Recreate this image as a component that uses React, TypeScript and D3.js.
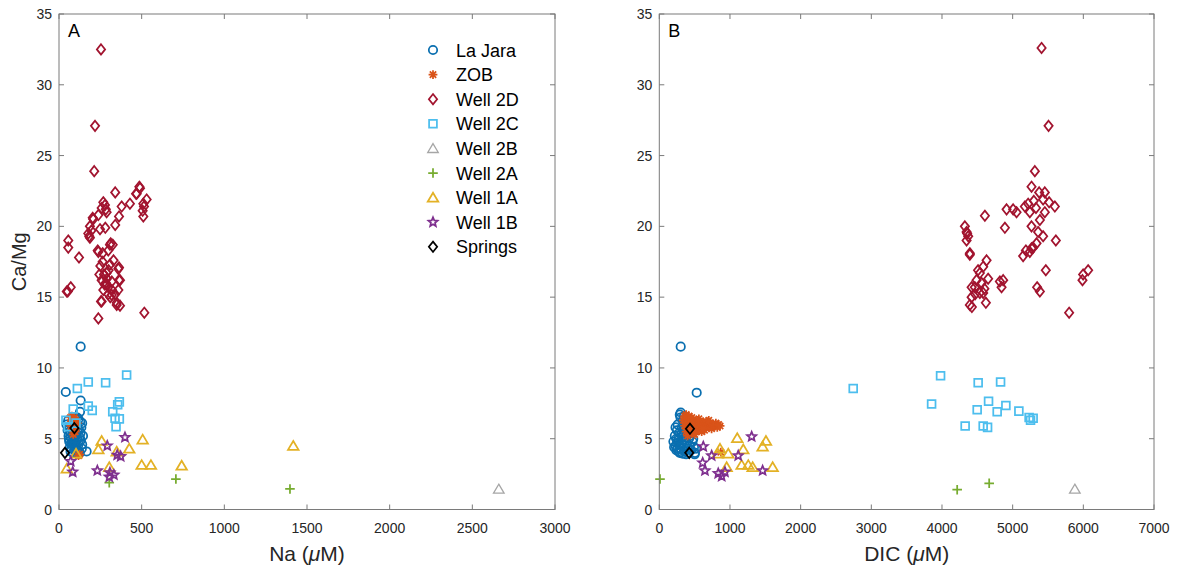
import React from "react";
import * as d3 from "d3";

type Pt = [number, number];

// ---------- tick values ----------
const ratioTicks = [0, 5, 10, 15, 20, 25, 30, 35];
const naTicks = [0, 500, 1000, 1500, 2000, 2500, 3000];
const dicTicks = [0, 1000, 2000, 3000, 4000, 5000, 6000, 7000];

// ---------- Panel A : Na (uM) vs Ca/Mg ----------
const laJaraNa: Pt[] = [
  [131, 11.5], [41, 8.3], [131, 7.7], [127, 6.9], [167, 4.1],
  [45, 6.0], [52, 5.6], [58, 5.2], [62, 4.8], [66, 4.4], [70, 4.1], [75, 4.3], [80, 4.6],
  [85, 4.9], [90, 5.3], [95, 5.0], [100, 4.7], [105, 4.4], [110, 4.2], [115, 4.5], [120, 4.8],
  [125, 5.1], [130, 5.4], [135, 5.8], [128, 6.2], [118, 6.4], [108, 6.0], [98, 5.7], [88, 6.1],
  [78, 5.9], [68, 5.5], [60, 5.0], [72, 5.1], [82, 5.3], [92, 4.5], [102, 5.2], [112, 5.5],
  [122, 5.6], [132, 4.9], [140, 4.6], [138, 4.3], [126, 4.0], [114, 3.95], [104, 4.1], [94, 4.2],
  [84, 4.0], [74, 4.7], [64, 5.8], [56, 6.3], [110, 6.5], [96, 6.4], [140, 6.1], [145, 5.2],
];
const zobNa: Pt[] = [
  [70, 6.5], [78, 6.6], [85, 6.4], [92, 6.5], [100, 6.3], [76, 6.2], [88, 6.1], [96, 6.0],
  [104, 5.8], [82, 5.7], [92, 5.6], [110, 6.1], [72, 5.9], [98, 5.5], [86, 5.3], [125, 3.9], [118, 3.8],
];
const well2DNa: Pt[] = [
  [254, 32.5], [218, 27.1], [213, 23.9], [56, 19.0], [56, 18.5], [121, 17.8], [53, 15.4], [71, 15.7],
  [238, 13.5], [516, 13.9], [340, 22.4], [429, 21.6], [490, 22.7], [470, 22.3], [530, 21.9], [510, 21.6],
  [506, 21.1], [510, 20.7], [379, 21.4], [363, 20.7], [340, 20.1], [278, 21.5], [268, 21.7], [258, 21.3],
  [288, 21.0], [238, 20.8], [248, 19.8], [280, 19.9], [204, 20.6], [187, 20.0], [177, 19.5], [187, 19.2],
  [196, 19.7], [234, 18.3], [264, 18.1], [308, 18.7], [325, 18.7], [298, 18.3], [264, 17.5], [363, 17.1],
  [244, 16.6], [288, 16.7], [319, 16.1], [363, 16.2], [284, 16.0], [298, 15.7], [268, 15.5], [320, 15.5],
  [339, 15.2], [349, 14.6], [369, 14.4], [254, 14.7], [298, 15.2], [272, 16.6], [308, 17.3], [486, 22.8],
  [466, 22.3], [514, 21.4], [283, 21.2], [207, 20.5], [183, 19.3], [313, 18.8], [238, 18.2], [359, 17.0],
  [258, 16.2], [288, 15.9], [369, 16.2], [359, 15.5], [319, 15.15], [349, 14.45], [258, 14.7], [47, 15.4],
  [290, 16.3], [300, 16.9], [276, 15.9], [310, 15.0], [330, 17.6], [250, 17.2],
];
const well2CNa: Pt[] = [
  [409, 9.5], [282, 8.95], [177, 9.0], [111, 8.55], [365, 7.6], [355, 7.4], [177, 7.3], [201, 7.0],
  [86, 7.1], [325, 6.9], [339, 6.45], [365, 6.4], [345, 5.85], [42, 6.3], [56, 5.85], [103, 6.1],
];
const well2BNa: Pt[] = [[2660, 1.45]];
const well2ANa: Pt[] = [[304, 1.9], [707, 2.15], [1397, 1.45]];
const well1ANa: Pt[] = [
  [258, 4.85], [238, 4.25], [425, 4.3], [506, 4.95], [304, 3.0], [500, 3.15],
  [556, 3.15], [742, 3.1], [1417, 4.5], [103, 3.95], [47, 2.9], [349, 4.1],
];
const well1BNa: Pt[] = [
  [399, 5.1], [292, 4.5], [352, 3.85], [373, 3.75], [232, 2.75],
  [308, 2.6], [332, 2.45], [304, 2.3], [71, 3.4], [83, 2.65],
];
const springsNa: Pt[] = [[93, 5.75], [36, 4.0]];

// ---------- Panel B : DIC (uM) vs Ca/Mg ----------
const laJaraDIC: Pt[] = [
  [303, 11.5], [529, 8.25], [303, 6.85], [505, 4.0],
  [200, 4.8], [220, 5.2], [230, 4.5], [240, 4.2], [250, 5.6], [260, 6.0], [270, 5.0], [280, 4.6],
  [290, 4.0], [300, 4.3], [310, 5.3], [320, 5.8], [330, 6.3], [340, 4.9], [350, 4.4], [360, 4.1],
  [370, 5.1], [380, 5.5], [390, 4.7], [400, 4.3], [410, 4.0], [420, 5.0], [430, 4.5], [450, 4.2],
  [470, 4.8], [490, 4.4], [260, 4.3], [280, 5.4], [300, 6.5], [230, 5.8], [210, 4.4], [250, 4.7],
  [340, 5.6], [360, 6.1], [320, 4.6], [400, 5.3], [440, 5.2], [480, 5.0], [380, 3.9], [330, 3.95],
  [270, 4.1], [240, 5.0], [290, 6.7], [350, 6.6], [520, 4.3], [500, 3.9],
];
const zobDIC: Pt[] = [
  [340, 6.3], [360, 6.6], [380, 6.7], [400, 6.5], [420, 6.6], [440, 6.4], [460, 6.5], [480, 6.3],
  [360, 5.9], [380, 5.5], [400, 5.2], [420, 5.6], [440, 5.9], [460, 5.4], [480, 5.8], [500, 6.2],
  [520, 6.0], [540, 6.3], [560, 5.7], [580, 6.1], [600, 5.9], [620, 6.2], [640, 5.6], [660, 6.0],
  [680, 6.2], [700, 5.8], [720, 6.1], [740, 5.7], [760, 6.0], [780, 5.9], [800, 6.1], [820, 5.8],
  [840, 6.0], [860, 5.9], [520, 5.5], [560, 6.4], [600, 5.5], [500, 5.3], [450, 6.0], [410, 6.1],
  [620, 5.7], [700, 6.3], [870, 4.05],
];
const well2DDIC: Pt[] = [
  [5409, 32.6], [5508, 27.1], [5314, 23.9], [5267, 22.8], [5375, 22.4], [5455, 22.4], [5431, 21.9],
  [5516, 21.7], [5597, 21.4], [5219, 21.6], [5173, 21.4], [5243, 21.0], [5055, 21.0], [5007, 21.2],
  [4914, 21.2], [4607, 20.75], [4324, 20.0], [4348, 19.6], [4371, 19.3], [4348, 19.0], [4890, 19.9],
  [5267, 20.0], [5385, 20.45], [5455, 21.0], [5431, 19.3], [5611, 19.0], [5148, 17.9], [5267, 18.45],
  [5243, 18.2], [5338, 18.8], [4394, 18.0], [5469, 16.9], [5988, 16.2], [6068, 16.9], [5799, 13.9],
  [5346, 15.7], [5385, 15.4], [4631, 17.6], [4583, 17.15], [4536, 16.7], [4489, 16.2], [4419, 15.7],
  [4465, 15.7], [4560, 16.0], [4653, 16.3], [4866, 16.2], [4843, 15.7], [4419, 15.0], [4394, 14.45],
  [4423, 14.3], [4621, 14.6], [4583, 15.3], [4536, 15.3], [4356, 19.5], [4394, 18.1], [5187, 18.3],
  [5290, 18.5], [4819, 16.1], [5997, 16.6], [5330, 21.3], [5300, 21.8], [5360, 19.6], [4510, 16.9],
  [4470, 15.2], [4600, 15.6],
];
const well2CDIC: Pt[] = [
  [3980, 9.45], [4512, 8.95], [4829, 9.0], [3853, 7.45], [4659, 7.65], [4498, 7.05], [4781, 6.9],
  [4904, 7.35], [5088, 6.95], [5233, 6.5], [5253, 6.3], [5290, 6.45], [4328, 5.9], [4583, 5.9],
  [4645, 5.8], [2744, 8.55],
];
const well2BDIC: Pt[] = [[5880, 1.45]];
const well2ADIC: Pt[] = [[10, 2.15], [4215, 1.4], [4668, 1.85]];
const well1ADIC: Pt[] = [
  [1103, 5.05], [1509, 4.85], [1462, 4.45], [1188, 4.25], [859, 4.3], [976, 3.95],
  [826, 3.95], [953, 3.0], [1165, 3.15], [1259, 3.15], [1321, 3.0], [1604, 3.0],
];
const well1BDIC: Pt[] = [
  [1307, 5.15], [622, 4.45], [741, 3.8], [1117, 3.8], [614, 3.3],
  [646, 2.75], [834, 2.55], [883, 2.35], [929, 2.65], [1462, 2.75],
];
const springsDIC: Pt[] = [[434, 5.7], [424, 4.0]];

// ---------- series names & colours ----------
const seriesNames = ["La Jara", "ZOB", "Well 2D", "Well 2C", "Well 2B", "Well 2A", "Well 1A", "Well 1B", "Springs"];
const seriesColors = ["#0a6fb0", "#D95319", "#A2142F", "#4DBEEE", "#A6A6A6", "#77AC30", "#E3B125", "#7E2F8E", "#000000"];
const seriesMarkers = ["circle", "asterisk", "diamond", "square", "triangle", "plus", "triangle", "star", "diamond"];
const panelAData = [laJaraNa, zobNa, well2DNa, well2CNa, well2BNa, well2ANa, well1ANa, well1BNa, springsNa];
const panelBData = [laJaraDIC, zobDIC, well2DDIC, well2CDIC, well2BDIC, well2ADIC, well1ADIC, well1BDIC, springsDIC];

// ---------- marker shapes (d3 symbol types; size = radius) ----------
const symbolTypes: Record<string, d3.SymbolType> = {
  circle: { draw(c: any, r: number) { c.moveTo(r, 0); c.arc(0, 0, r, 0, 2 * Math.PI); } },
  diamond: {
    draw(c: any, r: number) {
      c.moveTo(0, -r * 1.12); c.lineTo(r * 0.9, 0); c.lineTo(0, r * 1.12); c.lineTo(-r * 0.9, 0); c.closePath();
    },
  },
  square: { draw(c: any, r: number) { c.rect(-r * 0.85, -r * 0.85, r * 1.7, r * 1.7); } },
  triangle: {
    draw(c: any, r: number) { c.moveTo(0, -r * 1.0); c.lineTo(r * 1.1, r * 0.85); c.lineTo(-r * 1.1, r * 0.85); c.closePath(); },
  },
  plus: { draw(c: any, r: number) { c.moveTo(-r, 0); c.lineTo(r, 0); c.moveTo(0, -r); c.lineTo(0, r); } },
  asterisk: {
    draw(c: any, r: number) {
      const d = r * 0.72;
      c.moveTo(-r, 0); c.lineTo(r, 0); c.moveTo(0, -r); c.lineTo(0, r);
      c.moveTo(-d, -d); c.lineTo(d, d); c.moveTo(-d, d); c.lineTo(d, -d);
    },
  },
  star: {
    draw(c: any, r: number) {
      for (let i = 0; i < 10; i++) {
        const rr = i % 2 === 0 ? r : r * 0.45;
        const a = -Math.PI / 2 + (i * Math.PI) / 5;
        if (i === 0) c.moveTo(rr * Math.cos(a), rr * Math.sin(a));
        else c.lineTo(rr * Math.cos(a), rr * Math.sin(a));
      }
      c.closePath();
    },
  },
};
const markerSize: Record<string, number> = {
  circle: 4.2, diamond: 4.6, square: 4.6, triangle: 4.8, plus: 4.8, asterisk: 4.4, star: 4.8,
};
const markerPath = (m: string) => d3.symbol().type(symbolTypes[m]).size(markerSize[m])() as string;

const FONT = "'Liberation Sans', Arial, Helvetica, sans-serif";
const TEXT = "#262626";
const AXIS = "#7a7a7a";

// ---------- layout ----------
const plotTop = 14;
const plotBottom = 509.5;
const yScale = d3.scaleLinear().domain([0, 35]).range([plotBottom, plotTop]);
const xA = d3.scaleLinear().domain([0, 3000]).range([59, 555]);
const xB = d3.scaleLinear().domain([0, 7000]).range([659.3, 1154]);

function Panel(props: {
  x: d3.ScaleLinear<number, number>;
  xTicks: number[];
  data: Pt[][];
  label: string;
  xName: string;
  showYLabel: boolean;
  legend: boolean;
}) {
  const { x, xTicks, data, label, xName, showYLabel, legend } = props;
  const [x0, x1] = x.range();
  const tickLen = 5;
  return (
    <g>
      {/* data */}
      {data.map((pts, si) => {
        const m = seriesMarkers[si];
        const d = markerPath(m);
        const color = seriesColors[si];
        const sw = si === 4 ? 1.3 : 1.75;
        return (
          <g key={si}>
            {pts.map((p, i) => (
              <path
                key={i}
                d={d}
                transform={`translate(${x(p[0])},${yScale(p[1])})`}
                fill="none"
                stroke={color}
                strokeWidth={sw}
                strokeLinejoin="miter"
              />
            ))}
          </g>
        );
      })}
      {/* axis box */}
      <rect x={x0} y={plotTop} width={x1 - x0} height={plotBottom - plotTop} fill="none" stroke={AXIS} strokeWidth={1} />
      {/* x ticks */}
      {xTicks.map((t) => (
        <g key={"xt" + t}>
          <line x1={x(t)} x2={x(t)} y1={plotBottom} y2={plotBottom - tickLen} stroke={AXIS} />
          <line x1={x(t)} x2={x(t)} y1={plotTop} y2={plotTop + tickLen} stroke={AXIS} />
          <text x={x(t)} y={plotBottom + 23} textAnchor="middle" fontSize={14} fill={TEXT} fontFamily={FONT}>
            {t}
          </text>
        </g>
      ))}
      {/* y ticks */}
      {ratioTicks.map((t) => (
        <g key={"yt" + t}>
          <line x1={x0} x2={x0 + tickLen} y1={yScale(t)} y2={yScale(t)} stroke={AXIS} />
          <line x1={x1} x2={x1 - tickLen} y1={yScale(t)} y2={yScale(t)} stroke={AXIS} />
          <text x={x0 - 7} y={yScale(t) + 5} textAnchor="end" fontSize={14} fill={TEXT} fontFamily={FONT}>
            {t}
          </text>
        </g>
      ))}
      {/* x label */}
      <text x={(x0 + x1) / 2} y={561} textAnchor="middle" fontSize={21} fill={TEXT} fontFamily={FONT}>
        {xName} (<tspan fontStyle="italic">μ</tspan>M)
      </text>
      {showYLabel && (
        <text
          transform={`translate(${26},${(plotTop + plotBottom) / 2}) rotate(-90)`}
          textAnchor="middle"
          fontSize={20}
          fill={TEXT}
          fontFamily={FONT}
        >
          Ca/Mg
        </text>
      )}
      {/* panel letter */}
      <text x={x0 + 9} y={plotTop + 23} fontSize={18} fill="#000" fontFamily={FONT}>
        {label}
      </text>
      {legend &&
        seriesNames.map((n, i) => (
          <g key={"lg" + i} transform={`translate(433,${50 + i * 24.6})`}>
            <path
              d={markerPath(seriesMarkers[i])}
              fill="none"
              stroke={seriesColors[i]}
              strokeWidth={i === 4 ? 1.3 : 1.75}
            />
            <text x={23} y={6.5} fontSize={18} fill="#000" fontFamily={FONT}>
              {n}
            </text>
          </g>
        ))}
    </g>
  );
}

export default function App() {
  return (
    <div style={{ position: "absolute", left: 0, top: 0, width: 1177, height: 567, background: "#fff" }}>
      <svg width={1177} height={567} viewBox="0 0 1177 567" style={{ display: "block" }}>
        <rect width={1177} height={567} fill="#fff" />
        <Panel x={xA} xTicks={naTicks} data={panelAData} label="A" xName="Na" showYLabel={true} legend={true} />
        <Panel x={xB} xTicks={dicTicks} data={panelBData} label="B" xName="DIC" showYLabel={false} legend={false} />
      </svg>
    </div>
  );
}
